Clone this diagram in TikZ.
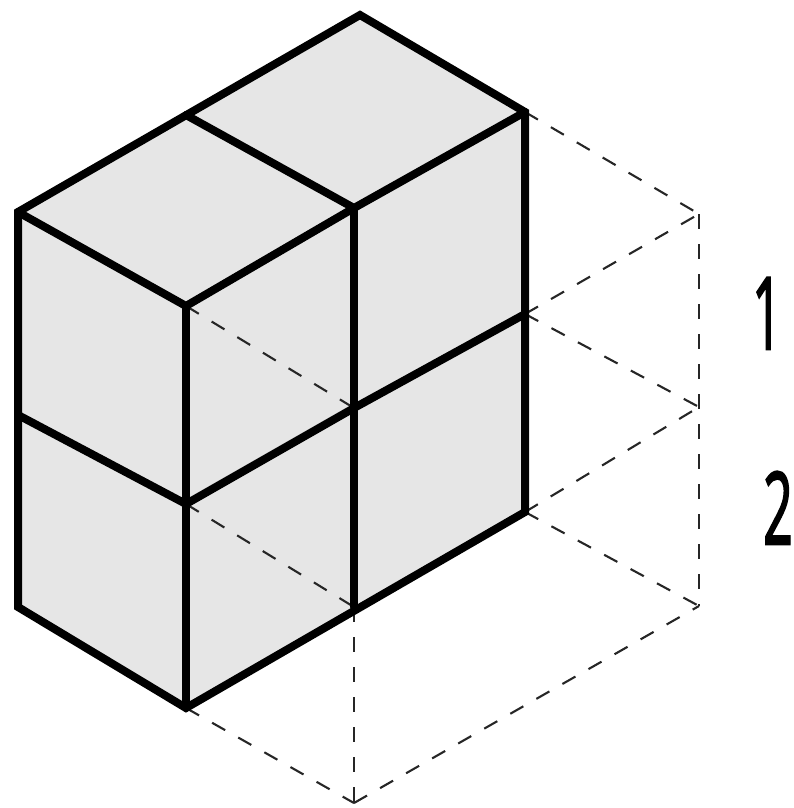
\documentclass[tikz,border=0pt]{standalone}
\usepackage{fontspec}
\setmainfont{Open Sans}
\newfontfamily\labfont[RawFeature={embolden=2.5}]{Open Sans}
\definecolor{cface}{HTML}{E6E6E6}
\tikzset{
  edge/.style={line width=8pt,line join=miter,line cap=round,draw=black},
  hidden/.style={line width=2.1pt,draw=black!85,dash pattern=on 15pt off 15pt},
  lab/.style={font=\fontsize{100}{100}\labfont,xscale=0.52,inner sep=0pt,anchor=base},
}

\begin{document}
\begin{tikzpicture}[x=1pt,y=-1pt]
\useasboundingbox (0,0) rectangle (794,808);

% top face
\coordinate (tb) at (360,15);
\coordinate (tl) at (18,212);
\coordinate (tm) at (186,115);
\coordinate (tr) at (525,112);
\coordinate (tc) at (354,208);
\coordinate (tf) at (186,306);
% middle
\coordinate (ml) at (18,415);
\coordinate (mf) at (186,504);
\coordinate (mc) at (354,408);
\coordinate (mr) at (525,314);
% bottom
\coordinate (bl) at (18,607);
\coordinate (bf) at (186,708);
\coordinate (bc) at (354,607);
\coordinate (br) at (525,512);
% hidden block
\coordinate (h1) at (699,214);
\coordinate (h2) at (699,407);
\coordinate (h3) at (699,606);
\coordinate (h4) at (354,803);

\fill[cface] (tb) -- (tr) -- (br) -- (bf) -- (bl) -- (tl) -- cycle;

\draw[hidden] (tf) -- (mc);
\draw[hidden] (mf) -- (bc);
\draw[hidden] (tr) -- (h1);
\draw[hidden] (mr) -- (h1);
\draw[hidden] (mr) -- (h2);
\draw[hidden] (br) -- (h2);
\draw[hidden] (br) -- (h3);
\draw[hidden] (h1) -- (h3);
\draw[hidden] (bf) -- (h4);
\draw[hidden] (bc) -- (h4);
\draw[hidden] (h4) -- (h3);

\draw[edge] (tb) -- (tr) -- (br) -- (bf) -- (bl) -- (tl) -- cycle;
\draw[edge] (tl) -- (tf) -- (tc) -- (tr);
\draw[edge] (tm) -- (tc);
\draw[edge] (tf) -- (bf);
\draw[edge] (tc) -- (bc);
\draw[edge] (ml) -- (mf) -- (mc) -- (mr);

\node[lab] (one) at (767,349) {1};
\node[lab] (two) at (778,544) {2};

\end{tikzpicture}
\end{document}
